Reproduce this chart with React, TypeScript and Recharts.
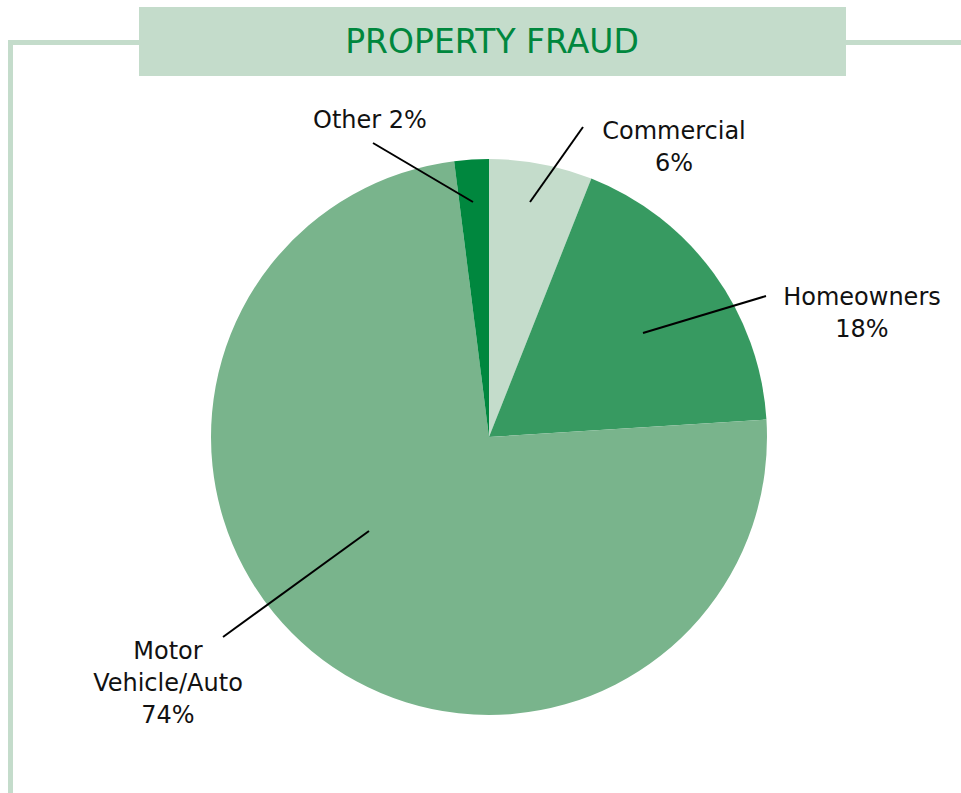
import React from "react";
import { PieChart, Pie, Cell } from "recharts";

const title = "PROPERTY FRAUD";
const categories = ["Commercial", "Homeowners", "Motor Vehicle/Auto", "Other"];
const shares = [6, 18, 74, 2];
const colors = ["#c4dccb", "#379a61", "#79b48c", "#00873e"];

const data = categories.map((name, i) => ({ name, value: shares[i] }));

// label layout: offsets relative to pie center
const labelLayout: Record<string, { inner: [number, number]; outer: [number, number]; tx: number; ty: number; lines: (v: number) => string[] }> = {
  Commercial: { inner: [41, -235], outer: [94, -310], tx: 185, ty: -298, lines: (v) => ["Commercial", `${v}%`] },
  Homeowners: { inner: [154, -104], outer: [277, -141], tx: 373, ty: -132, lines: (v) => ["Homeowners", `${v}%`] },
  "Motor Vehicle/Auto": { inner: [-120, 94], outer: [-266, 200], tx: -321, ty: 222, lines: (v) => ["Motor", "Vehicle/Auto", `${v}%`] },
  Other: { inner: [-16, -235], outer: [-116, -294], tx: -119, ty: -309, lines: (v) => [`Other ${v}%`] },
};

const FONT = "'DejaVu Sans', sans-serif";

const renderLabel = (props: any) => {
  const { cx, cy, name, value } = props;
  const l = labelLayout[name];
  if (!l) return null;
  const lines = l.lines(value);
  return (
    <g>
      <line x1={cx + l.inner[0]} y1={cy + l.inner[1]} x2={cx + l.outer[0]} y2={cy + l.outer[1]} stroke="#000" strokeWidth={2} />
      <text x={cx + l.tx} y={cy + l.ty} textAnchor="middle" fontFamily={FONT} fontSize={24} fill="#111">
        {lines.map((t, i) => (
          <tspan key={i} x={cx + l.tx} dy={i === 0 ? 0 : 32}>
            {t}
          </tspan>
        ))}
      </text>
    </g>
  );
};

export default function App() {
  return (
    <div style={{ position: "fixed", left: 0, top: 0, width: 961, height: 793, background: "#fff", overflow: "hidden" }}>
      <svg width={961} height={793} style={{ position: "absolute", left: 0, top: 0 }}>
        <rect x={8} y={40} width={131} height={5} fill="#c4dccb" />
        <rect x={846} y={40} width={115} height={5} fill="#c4dccb" />
        <rect x={8} y={40} width={5} height={753} fill="#c4dccb" />
        <rect x={139} y={7} width={707} height={69} fill="#c4dccb" />
        <text x={492} y={53} textAnchor="middle" fontFamily={FONT} fontSize={33} fill="#00873e">
          {title}
        </text>
      </svg>
      <div style={{ position: "absolute", left: 0, top: 0 }}>
        <PieChart width={961} height={793} margin={{ top: 0, right: 0, bottom: 0, left: 0 }}>
          <Pie
            data={data}
            dataKey="value"
            nameKey="name"
            cx={489}
            cy={437}
            outerRadius={278}
            startAngle={90}
            endAngle={-270}
            stroke="none"
            isAnimationActive={false}
            labelLine={false}
            label={renderLabel}
          >
            {data.map((d, i) => (
              <Cell key={d.name} fill={colors[i]} />
            ))}
          </Pie>
        </PieChart>
      </div>
    </div>
  );
}
